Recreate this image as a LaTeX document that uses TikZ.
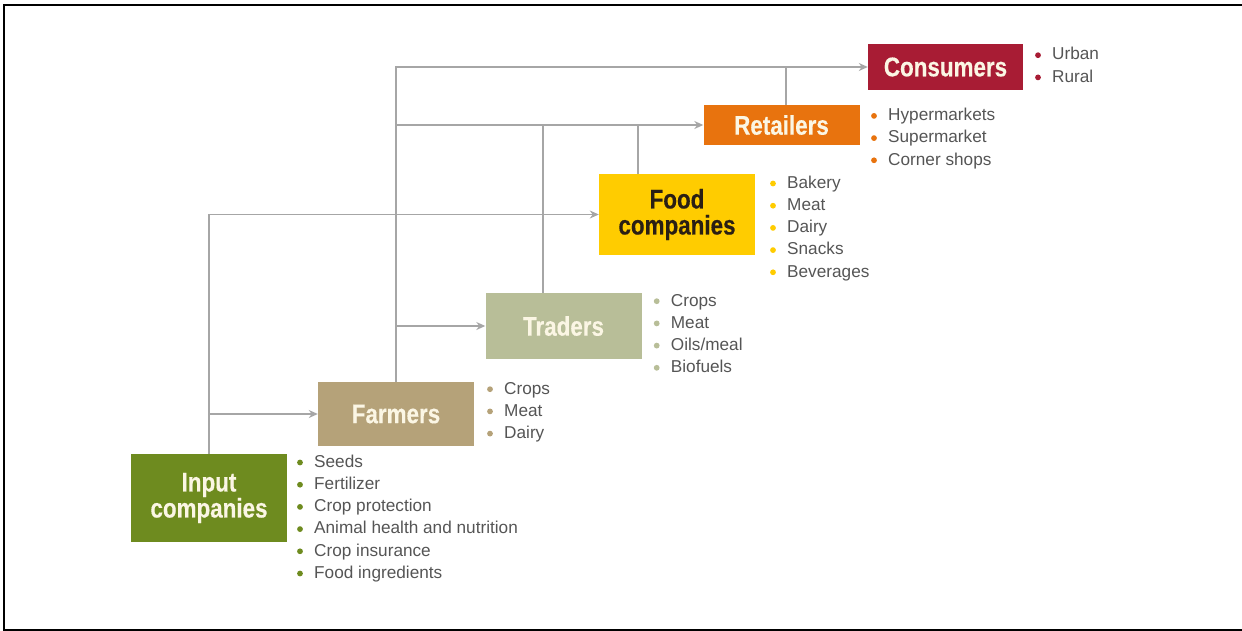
\documentclass[tikz,border=0pt]{standalone}
\usepackage{fontspec}
\setmainfont{Liberation Sans}
\newfontface\stageface[FakeStretch=0.83,FakeBold=0.4]{Liberation Sans Bold}
\usetikzlibrary{arrows.meta,positioning}

\definecolor{inputgreen}{HTML}{6E8B1F}
\definecolor{farmertan}{HTML}{B5A279}
\definecolor{tradersage}{HTML}{B8BE98}
\definecolor{foodyellow}{HTML}{FFCC00}
\definecolor{retailorange}{HTML}{E8730E}
\definecolor{consumerred}{HTML}{A81C34}
\definecolor{linegray}{HTML}{A6A6A6}
\definecolor{itemgray}{HTML}{555555}
\definecolor{labelcream}{HTML}{FBF6E4}
\definecolor{fooddark}{HTML}{2A1F14}

\tikzset{
  stage/.style={rectangle, inner sep=0pt, minimum width=156pt, align=center,
    text=labelcream, font=\stageface\fontsize{27}{26}\selectfont},
  item/.style={anchor=base west, inner sep=0pt, text=itemgray,
    font=\fontsize{17.2}{22}\selectfont},
  link/.style={draw=linegray, line width=1.4pt},
  flow/.style={link, -{Stealth[length=9pt,width=8pt]}}
}

% name, colour, bullet x, first baseline, items
\newcommand{\itemlist}[5]{%
  \foreach \txt [count=\i from 0] in {#5} {
    \fill[#2] (#3, #4+22.2*\i-4.8) circle (2.9pt);
    \node[item] (#1-\i) at (#3+14, #4+22.2*\i) {\txt};
  }
}

\begin{document}
\begin{tikzpicture}[x=1pt,y=-1pt]
\useasboundingbox (0,0) rectangle (1242,631);
\draw[line width=2pt] (1242,5) -- (3.5,5) -- (3.5,629.5) -- (1242,629.5);

% stages of the chain
\node[stage, fill=inputgreen, minimum height=88pt] (input) at (209,498) {Input\\companies};
\node[stage, fill=farmertan, minimum height=64pt] (farmers) at (396,414) {Farmers};
\node[stage, fill=tradersage, minimum height=66pt] (traders) at (563.5,326) {Traders};
\node[stage, fill=foodyellow, minimum height=80pt, text=fooddark] (food) at (677,214.5) {Food\\companies};
\node[stage, fill=retailorange, minimum height=40pt] (retailers) at (781.5,125) {Retailers};
\node[stage, fill=consumerred, minimum height=46pt, minimum width=155pt] (consumers) at (945.5,67) {Consumers};

% connectors
\draw[flow] (input.north) |- (food.west);
\draw[flow] (input.north |- farmers.west) -- (farmers.west);
\draw[flow] (farmers.north) |- (consumers.west);
\draw[flow] (farmers.north |- retailers.west) -- (retailers.west);
\draw[flow] (farmers.north |- traders.west) -- (traders.west);
\draw[link] ([xshift=-20.5pt]traders.north) -- ([xshift=-20.5pt]traders.north |- retailers.west);
\draw[link] ([xshift=-39pt]food.north) -- ([xshift=-39pt]food.north |- retailers.west);
\draw[link] ([xshift=4.5pt]retailers.north) -- ([xshift=4.5pt]retailers.north |- consumers.west);

% what each stage covers
\itemlist{inp}{inputgreen}{300}{467.3}{Seeds, Fertilizer, Crop protection, Animal health and nutrition, Crop insurance, Food ingredients}
\itemlist{frm}{farmertan}{490}{394}{Crops, Meat, Dairy}
\itemlist{trd}{tradersage}{656.7}{306}{Crops, Meat, Oils/meal, Biofuels}
\itemlist{fd}{foodyellow}{773}{188.3}{Bakery, Meat, Dairy, Snacks, Beverages}
\itemlist{ret}{retailorange}{874}{120.7}{Hypermarkets, Supermarket, Corner shops}
\itemlist{con}{consumerred}{1038}{60}{Urban, Rural}

\end{tikzpicture}
\end{document}
